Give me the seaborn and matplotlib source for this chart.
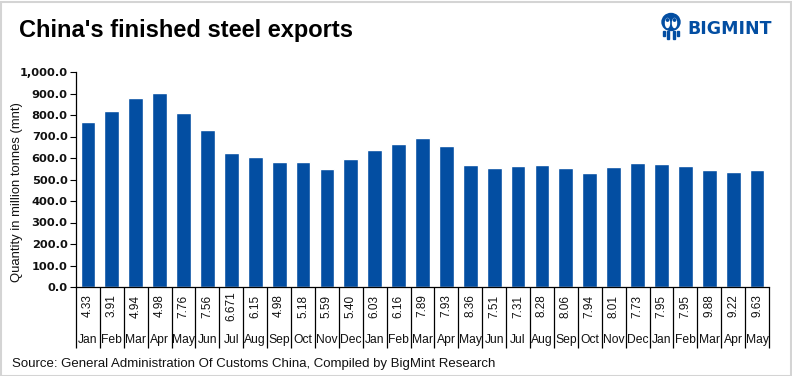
import matplotlib
matplotlib.use("Agg")
import matplotlib.pyplot as plt
import matplotlib.transforms as mtransforms
from matplotlib.patches import Rectangle, Ellipse
import seaborn as sns
import pandas as pd

months = ["Jan", "Feb", "Mar", "Apr", "May", "Jun", "Jul", "Aug", "Sep", "Oct", "Nov", "Dec",
          "Jan", "Feb", "Mar", "Apr", "May", "Jun", "Jul", "Aug", "Sep", "Oct", "Nov", "Dec",
          "Jan", "Feb", "Mar", "Apr", "May"]
exports = [766, 817, 878, 901, 808, 729, 624, 604, 580, 580, 548, 594,
           636, 664, 692, 655, 566, 553, 562, 566, 553, 529, 557, 576,
           571, 562, 543, 534, 543]
table_values = ["4.33", "3.91", "4.94", "4.98", "7.76", "7.56", "6.671", "6.15", "4.98", "5.18",
                "5.59", "5.40", "6.03", "6.16", "7.89", "7.93", "8.36", "7.51", "7.31", "8.28",
                "8.06", "7.94", "8.01", "7.73", "7.95", "7.95", "9.88", "9.22", "9.63"]
yticks = [0, 100, 200, 300, 400, 500, 600, 700, 800, 900, 1000]

BLUE = "#034EA2"

sns.set_theme(style="white")
plt.rcParams["font.family"] = ["Liberation Sans", "DejaVu Sans"]

fig = plt.figure(figsize=(7.92, 3.76), dpi=100)
ax = fig.add_axes([76 / 792, 1 - 287 / 376, (769 - 76) / 792, (287 - 72) / 376])

df = pd.DataFrame({"pos": list(range(len(exports))), "value": exports})
sns.barplot(data=df, x="pos", y="value", color=BLUE, saturation=1, width=0.62, ax=ax)

ax.set_xlim(-0.5, len(exports) - 0.5)
ax.set_ylim(0, 1000)
ax.set_yticks(yticks)
ax.set_yticklabels([f"{v:,.1f}" for v in yticks], fontsize=8.2, fontweight="bold",
                   color="#111111", family="DejaVu Sans")
ax.tick_params(axis="y", which="major", direction="out", length=4, width=0.8, color="black", pad=2, left=True)
ax.set_xticks([])
ax.set_xlabel("")
ax.set_ylabel("Quantity in million tonnes (mnt)", fontsize=9.4, color="#111111")
ax.yaxis.set_label_coords((23 - 76) / 693, (287 - 192) / 215)

for s in ["top", "right"]:
    ax.spines[s].set_visible(False)
ax.spines["left"].set_color("black")
ax.spines["left"].set_linewidth(0.9)
ax.spines["bottom"].set_color("black")
ax.spines["bottom"].set_linewidth(0.9)

# table below the axis
trans = mtransforms.blended_transform_factory(ax.transData, fig.transFigure)
ybot = 1 - 348 / 376
ytop = 1 - 287 / 376
for i in range(len(exports) + 1):
    ax.plot([i - 0.5, i - 0.5], [ytop, ybot], transform=trans, color="black", lw=0.9,
            clip_on=False, solid_capstyle="butt")
for i, (m, v) in enumerate(zip(months, table_values)):
    ax.text(i, 1 - 306 / 376, v, transform=trans, rotation=90, ha="center", va="center",
            fontsize=8.5, color="#111111")
    ax.text(i, 1 - 340 / 376, m, transform=trans, ha="center", va="center",
            fontsize=8.7, color="#111111")

# title and source
fig.text(19 / 792, 1 - 31 / 376, "China's finished steel exports", fontsize=17, fontweight="bold",
         color="black", ha="left", va="center")
fig.text(12 / 792, 1 - 364 / 376,
         "Source: General Administration Of Customs China, Compiled by BigMint Research",
         fontsize=9.5, color="#111111", ha="left", va="center")

# logo
fig.text(687 / 792, 1 - 29 / 376, "BIGMINT", fontsize=12.5, fontweight="bold", color=BLUE,
         family="DejaVu Sans", ha="left", va="center")
lax = fig.add_axes([660 / 792, 1 - 42 / 376, 22 / 792, 30 / 376])
lax.set_xlim(0, 22)
lax.set_ylim(0, 30)
lax.axis("off")
lax.add_patch(Ellipse((11, 20), 18, 17, color=BLUE))
lax.add_patch(Ellipse((7.5, 19), 4, 9, color="white"))
lax.add_patch(Ellipse((14.5, 19), 4, 9, color="white"))
lax.add_patch(Ellipse((7.5, 22), 2.4, 2.4, color=BLUE))
lax.add_patch(Ellipse((14.5, 22), 2.4, 2.4, color=BLUE))
for xx, h in [(4, 5), (8, 8), (14, 8), (18, 5)]:
    lax.add_patch(Rectangle((xx - 0.8, 11.5 - h), 1.6, h, color=BLUE))

# figure border
fig.patches.append(Rectangle((0.5 / 792, 0.5 / 376), 1 - 2 / 792, 1 - 2 / 376, transform=fig.transFigure,
                             fill=False, edgecolor="#d4d4d4", lw=1.5))

fig.savefig("out.png", dpi=100, facecolor="white")
